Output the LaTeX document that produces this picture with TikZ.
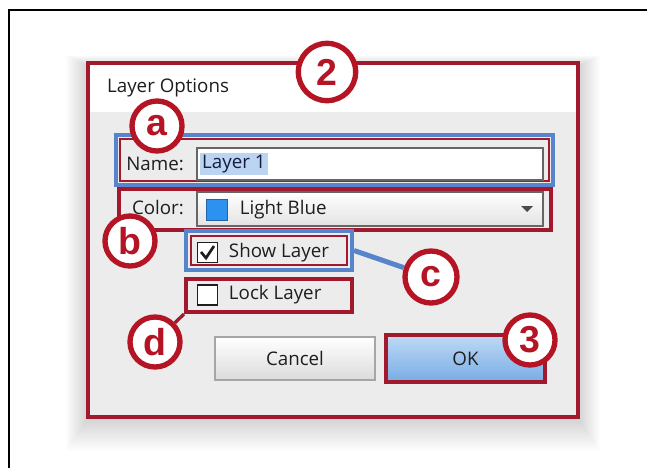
\documentclass[tikz,border=0pt]{standalone}
\usepackage{fontspec}
\setmainfont{Open Sans}
\newfontfamily\calloutfont{Liberation Sans}
\usetikzlibrary{positioning}

\definecolor{callred}{RGB}{180,20,35}
\definecolor{boxred}{RGB}{160,25,45}
\definecolor{boxblue}{RGB}{88,132,204}
\definecolor{dlggray}{RGB}{236,236,236}
\definecolor{uitext}{RGB}{30,30,30}
\definecolor{seltext}{RGB}{20,30,60}
\definecolor{selblue}{RGB}{186,212,242}
\definecolor{swatch}{RGB}{45,145,240}
\definecolor{oktop}{RGB}{190,218,245}
\definecolor{okbottom}{RGB}{120,172,228}

\begin{document}
\begin{tikzpicture}[x=0.03cm, y=-0.03cm,
    every node/.style={font=\fontsize{16}{18}\selectfont, text=uitext},
    callout/.style={circle, draw=callred, line width=0.16cm, fill=white,
      text=callred, inner sep=0pt, minimum size=1.5cm,
      font=\calloutfont\bfseries\fontsize{32}{32}\selectfont},
    redbox/.style={draw=boxred, line width=0.12cm, inner sep=0pt},
    bluebox/.style={draw=boxblue, line width=0.12cm, inner sep=0pt},
    field/.style={draw=gray!80!black, line width=0.04cm, inner sep=0pt},
    chkbox/.style={draw=uitext, fill=white, line width=0.04cm,
      minimum size=0.6cm, inner sep=0pt}]
  \useasboundingbox (0,0) rectangle (647,468);

  % outer frame
  \draw[line width=0.08cm] (9,468) -- (9,10) -- (647,10);

  % soft shadow under the dialog
  \foreach \s in {1,...,22}
    \fill[black, opacity=0.007] (88-\s,66-0.5*\s) rectangle (578+\s,418+1.5*\s);

  % dialog window
  \fill[white] (88,63) rectangle (578,112);
  \fill[dlggray] (88,112) rectangle (578,417);
  \draw[boxred, line width=0.12cm] (88,63) rectangle (578,417);
  \node[anchor=west] (title) at (103,88) {Layer Options};

  % name row
  \node[bluebox, minimum width=13.11cm, minimum height=1.5cm] (namebox) at (334.5,160) {};
  \draw[boxred, line width=0.045cm] (120,139) rectangle (549,181);
  \node[anchor=east] (namelbl) at (188,164) {Name:};
  \node[field, fill=white, minimum width=10.38cm, minimum height=0.96cm] (namefield) at (370,164) {};
  \node[anchor=west, fill=selblue, inner xsep=0.06cm, inner ysep=0.05cm,
    text=seltext] (layername) at (200,164) {Layer 1};

  % colour row
  \node[redbox, minimum width=12.96cm, minimum height=1.23cm] (colorbox) at (335,209.5) {};
  \node[anchor=east] (colorlbl) at (188,208) {Color:};
  \node[field, top color=white, bottom color=black!11, minimum width=10.38cm,
    minimum height=1.02cm] (colorfield) at (370,209) {};
  \node[draw=swatch!70!black, fill=swatch, line width=0.02cm, minimum size=0.64cm,
    inner sep=0pt] (swatchbox) at (216.5,210) {};
  \node[right=0.25cm of swatchbox] (colorname) {Light Blue};
  \fill[black!70] (521,206) -- (533,206) -- (527,212) -- cycle;

  % check boxes
  \node[bluebox, minimum width=4.98cm, minimum height=1.17cm] (showbox) at (269,250.5) {};
  \draw[boxred, line width=0.045cm] (191,236) rectangle (347,265);
  \node[chkbox] (showchk) at (207.5,252.5) {};
  \draw[uitext, line width=0.08cm] (201,252) -- (206,258) -- (214,246);
  \node[right=0.2cm of showchk] (showlbl) {Show Layer};

  \node[redbox, minimum width=4.98cm, minimum height=0.99cm] (lockbox) at (269,295.5) {};
  \node[chkbox] (lockchk) at (207.5,295) {};
  \node[right=0.2cm of lockchk] (locklbl) {Lock Layer};

  % buttons
  \node[draw=black!35, line width=0.04cm, top color=white, bottom color=black!14,
    minimum width=4.8cm, minimum height=1.29cm] (cancel) at (295,358.5) {Cancel};
  \node[redbox, top color=oktop, bottom color=okbottom,
    minimum width=4.77cm, minimum height=1.41cm] (ok) at (465.5,358.5) {OK};

  % callouts
  \node[callout, minimum size=1.72cm] (two) at (327,72) {2};
  \node[callout] (a) at (157,126) {a};
  \node[callout] (b) at (130,241) {b};
  \node[callout, minimum size=1.56cm] (c) at (431,277) {c};
  \node[callout] (d) at (155,342) {d};
  \node[callout] (three) at (530,340) {3};

  \path (showbox.east) edge[draw=boxblue, line width=0.15cm] (c);
  \path (lockbox.south west) edge[draw=boxred, line width=0.1cm] (d);
\end{tikzpicture}
\end{document}
